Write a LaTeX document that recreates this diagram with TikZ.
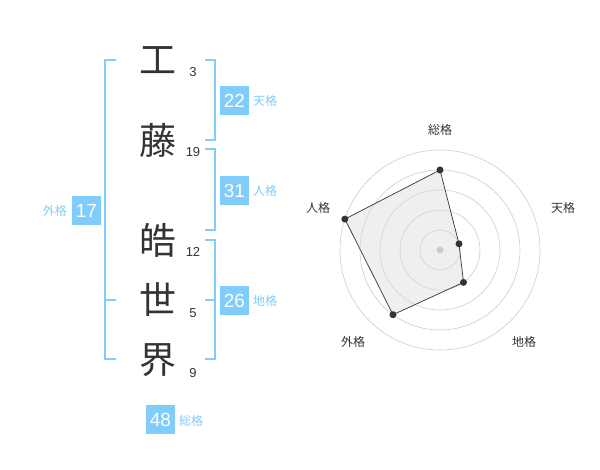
\documentclass[tikz,border=0pt]{standalone}
\usepackage{fontspec}
\usetikzlibrary{calc}
\setmainfont{Liberation Sans}
\newfontfamily\jp{Noto Sans CJK JP}
\definecolor{fb}{HTML}{80CCFA}
\definecolor{txt}{HTML}{333333}
\begin{document}
\begin{tikzpicture}[x=1pt,y=-1pt,
  kanji/.style={font=\jp\fontsize{37}{37}\selectfont, text=txt, inner sep=0pt},
  stroke/.style={font=\fontsize{13}{13}\selectfont, text=txt, inner sep=0pt},
  brk/.style={draw=fb, line width=2pt},
  valbox/.style={fill=fb, text=white, minimum width=29pt, minimum height=29pt, inner sep=0pt, font=\fontsize{19}{19}\selectfont},
  lab/.style={text=fb, font=\jp\fontsize{12}{12}\selectfont, inner sep=0pt},
  rlab/.style={text=txt, font=\jp\fontsize{12}{12}\selectfont, inner sep=0pt},
  ring/.style={draw=black!20, line width=0.6pt},
  dot/.style={circle, fill=txt, inner sep=0pt, minimum size=7pt}
]
\useasboundingbox (0,0) rectangle (600,470);
% kanji
\node[kanji] (k1) at (158,60) {工};
\node[kanji] (k2) at (158,140) {藤};
\node[kanji] (k3) at (158,240) {皓};
\node[kanji] (k4) at (158,300) {世};
\node[kanji] (k5) at (158,360) {界};
\node[stroke] (s1) at (193,72) {3};
\node[stroke] (s2) at (193,152) {19};
\node[stroke] (s3) at (193,252) {12};
\node[stroke] (s4) at (193,313) {5};
\node[stroke] (s5) at (193,373) {9};
% brackets
\draw[brk] (116,60) -- (105,60) -- (105,359) -- (116,359);
\draw[brk] (105,300) -- (116,300);
\draw[brk] (205,60) -- (215,60) -- (215,140) -- (205,140);
\draw[brk] (205,149) -- (215,149) -- (215,230) -- (205,230);
\draw[brk] (205,240) -- (215,240) -- (215,359) -- (205,359);
\draw[brk] (215,300) -- (205,300);
% value boxes
\node[valbox] (v22) at (234.5,100.5) {22};
\node[lab, anchor=west] (l22) at (253,101) {天格};
\node[valbox] (v31) at (234.5,190.5) {31};
\node[lab, anchor=west] (l31) at (253,191) {人格};
\node[valbox] (v26) at (234.5,300.5) {26};
\node[lab, anchor=west] (l26) at (253,301) {地格};
\node[valbox] (v17) at (86.5,210.5) {17};
\node[lab, anchor=east] (l17) at (67,211) {外格};
\node[valbox] (v48) at (160.5,419.5) {48};
\node[lab, anchor=west] (l48) at (179,421) {総格};
% radar
\coordinate (c) at (440,250);
\foreach \r in {20,40,60,80,100} \draw[ring] (c) circle (\r);
\coordinate (pA) at ($(c)+(0,-80)$);
\coordinate (pB) at ($(c)+(19.02,-6.18)$);
\coordinate (pC) at ($(c)+(23.51,32.36)$);
\coordinate (pD) at ($(c)+(-47.02,64.72)$);
\coordinate (pE) at ($(c)+(-95.11,-30.90)$);
\fill[black!14, fill opacity=0.45] (pA) -- (pB) -- (pC) -- (pD) -- (pE) -- cycle;
\draw[draw=txt, line width=0.7pt] (pA) -- (pB) -- (pC) -- (pD) -- (pE) -- cycle;
\fill[black!20] (c) circle (3.5);
\foreach \p in {pA,pB,pC,pD,pE} \node[dot] at (\p) {};
\node[rlab] (rA) at (440,130) {総格};
\node[rlab] (rB) at (563,208) {天格};
\node[rlab] (rC) at (524,342) {地格};
\node[rlab] (rD) at (353,342) {外格};
\node[rlab] (rE) at (318,208) {人格};
\end{tikzpicture}
\end{document}
